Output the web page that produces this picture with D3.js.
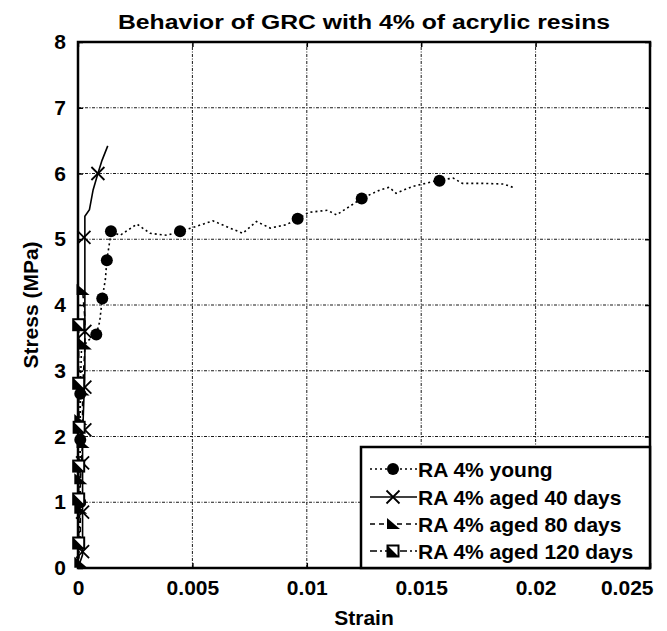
<!DOCTYPE html>
<html><head><meta charset="utf-8">
<script src="https://cdn.jsdelivr.net/npm/d3@7"></script>
<style>html,body{margin:0;padding:0;background:#fff;}svg{display:block;}</style>
</head><body><svg id="c" width="667" height="631"></svg>
<script>
const titleText = "Behavior of GRC with 4% of acrylic resins";
const xLabel = "Strain";
const yLabel = "Stress (MPa)";
const xTicks = [0, 0.005, 0.01, 0.015, 0.02, 0.025];
const xTickLabels = ["0", "0.005", "0.01", "0.015", "0.02", "0.025"];
const yTicks = [0, 1, 2, 3, 4, 5, 6, 7, 8];
const seriesNames = ["RA 4% young", "RA 4% aged 40 days", "RA 4% aged 80 days", "RA 4% aged 120 days"];

// [strain, stress]
const youngCurve = [[0,0],[0.00005,0.3],[0.00008,1.0],[0.0001,1.9],[0.0001,2.7],[0.00015,3.3],[0.0004,3.45],[0.0008,3.55],[0.00095,3.75],[0.00106,4.1],[0.0012,4.4],[0.00126,4.68],[0.0014,5.0],[0.00144,5.12],
  [0.00184,5.06],[0.00258,5.23],[0.00315,5.09],[0.00389,5.06],[0.00446,5.12],[0.00503,5.18],[0.0059,5.28],[0.0065,5.19],[0.0072,5.09],[0.0078,5.27],[0.0084,5.17],[0.0091,5.22],[0.0096,5.31],
  [0.0101,5.41],[0.0109,5.44],[0.0113,5.37],[0.0124,5.62],[0.0132,5.75],[0.0136,5.79],[0.0139,5.70],[0.0146,5.80],[0.0153,5.86],[0.0158,5.90],[0.0164,5.93],[0.0168,5.85],[0.0177,5.85],[0.0186,5.84],[0.0190,5.79]];
const youngMarkers = [[0.0001,1.0],[0.0001,1.95],[0.0001,2.65],[0.0008,3.55],[0.00106,4.1],[0.00126,4.68],[0.00144,5.12],[0.00446,5.12],[0.0096,5.31],[0.0124,5.62],[0.0158,5.89]];

const aged40Curve = [[0,0],[0.0002,0.2],[0.0002,1.0],[0.0002,2.0],[0.0003,3.0],[0.0003,4.0],[0.0003,5.0],[0.0003,5.35],[0.0005,5.45],[0.00066,5.75],[0.00087,6.0],[0.00105,6.2],[0.0013,6.42]];
const aged40Markers = [[0.0002,0.25],[0.0002,0.85],[0.0002,1.6],[0.0003,2.1],[0.0003,2.75],[0.0003,3.6],[0.00026,5.03],[0.00087,6.0]];

const aged80Curve = [[0,0],[0.0001,0.5],[0.0001,1.3],[0.0002,1.9],[0.0002,2.7],[0.0003,3.35],[0.0003,3.8],[0.0002,4.23]];
const aged80Markers = [[0.0001,0.08],[0.0001,0.9],[0.0001,1.35],[0.0002,1.9],[0.0001,2.25],[0.0002,2.7],[0.0003,3.4],[0.0002,4.23]];

const aged120Curve = [[0,0],[0.00003,0.38],[0.00003,1.05],[0.00003,1.55],[0.00005,2.14],[0.00003,2.81],[0.00003,3.7]];
const aged120Markers = [[0.00003,0.38],[0.00003,1.05],[0.00003,1.55],[0.00005,2.14],[0.00003,2.81],[0.00003,3.7]];

const W = 667, H = 631;
const m = {left: 78, right: 17, top: 42, bottom: 63};
const svg = d3.select("#c");
const x = d3.scaleLinear().domain([0, 0.025]).range([m.left, W - m.right]);
const y = d3.scaleLinear().domain([0, 8]).range([H - m.bottom, m.top]);
const font = "'Liberation Sans', Arial, Helvetica, sans-serif";

// grid
const grid = svg.append("g").attr("stroke", "#000").attr("stroke-width", 1).attr("stroke-dasharray", "3,1.5,1,1.5").attr("opacity", 0.9);
grid.selectAll("line.v").data(xTicks.slice(1, -1)).join("line")
  .attr("x1", d => x(d)).attr("x2", d => x(d)).attr("y1", y(0)).attr("y2", y(8));
grid.selectAll("line.h").data(yTicks.slice(1, -1)).join("line")
  .attr("x1", x(0)).attr("x2", x(0.025)).attr("y1", d => y(d)).attr("y2", d => y(d));

// axes
const fmt = (d) => xTickLabels[xTicks.indexOf(d)];
const xAxis = svg.append("g").attr("transform", `translate(0,${y(0)})`)
  .call(d3.axisBottom(x).tickValues(xTicks).tickFormat(fmt).tickSizeInner(-5).tickSizeOuter(0).tickPadding(12));
const xAxisTop = svg.append("g").attr("transform", `translate(0,${y(8)})`)
  .call(d3.axisTop(x).tickValues(xTicks).tickFormat("").tickSizeInner(-5).tickSizeOuter(0));
const yAxis = svg.append("g").attr("transform", `translate(${x(0)},0)`)
  .call(d3.axisLeft(y).tickValues(yTicks).tickFormat(d3.format("d")).tickSizeInner(-5).tickSizeOuter(0).tickPadding(12));
const yAxisR = svg.append("g").attr("transform", `translate(${x(0.025)},0)`)
  .call(d3.axisRight(y).tickValues(yTicks).tickFormat("").tickSizeInner(-5).tickSizeOuter(0));
[xAxis, xAxisTop, yAxis, yAxisR].forEach(g => {
  g.select(".domain").remove();
  g.selectAll(".tick line").attr("stroke", "#000").attr("stroke-width", 1.5);
  g.selectAll("text").attr("font-family", font).attr("font-size", 21).attr("font-weight", "bold").attr("fill", "#000");
});
// last x label sits inside the picture edge
xAxis.selectAll(".tick text").filter(d => d === 0.025).attr("text-anchor", "end").attr("dx", 3);

// frame
svg.append("rect").attr("x", x(0)).attr("y", y(8)).attr("width", x(0.025) - x(0)).attr("height", y(0) - y(8))
  .attr("fill", "none").attr("stroke", "#000").attr("stroke-width", 2.5);

// series
const line = d3.line().x(d => x(d[0])).y(d => y(d[1]));
const dashes = ["2,3", null, "5,4", "7,3,2,3"];
const curves = [youngCurve, aged40Curve, aged80Curve, aged120Curve];
curves.forEach((c, i) => {
  svg.append("path").datum(c).attr("d", line).attr("fill", "none").attr("stroke", "#000")
    .attr("stroke-width", 1.6).attr("stroke-dasharray", dashes[i]);
});

function marker(g, type, cx, cy) {
  if (type === 0) {
    g.append("circle").attr("cx", cx).attr("cy", cy).attr("r", 6).attr("fill", "#000");
  } else if (type === 1) {
    const s = 6.5;
    g.append("path").attr("d", `M${cx-s},${cy-s}L${cx+s},${cy+s}M${cx-s},${cy+s}L${cx+s},${cy-s}`)
      .attr("stroke", "#000").attr("stroke-width", 1.8).attr("fill", "none");
  } else if (type === 2) {
    g.append("path").attr("d", `M${cx-6},${cy-6}L${cx+7},${cy+5}L${cx-6},${cy+5}Z`).attr("fill", "#000");
  } else {
    const s = 5.5;
    g.append("rect").attr("x", cx - s).attr("y", cy - s).attr("width", 2 * s).attr("height", 2 * s)
      .attr("fill", "#fff").attr("stroke", "#000").attr("stroke-width", 2);
    g.append("path").attr("d", `M${cx-s},${cy-s}L${cx+s},${cy+s}L${cx-s},${cy+s}Z`).attr("fill", "#000");
  }
}
const markerSets = [youngMarkers, aged40Markers, aged80Markers, aged120Markers];
const mg = svg.append("g");
markerSets.forEach((ms, i) => ms.forEach(d => marker(mg, i, x(d[0]), y(d[1]))));

// legend
const lg = svg.append("g");
const lx0 = 361, ly0 = 447, lx1 = x(0.025), ly1 = y(0);
lg.append("rect").attr("x", lx0).attr("y", ly0).attr("width", lx1 - lx0).attr("height", ly1 - ly0)
  .attr("fill", "#fff").attr("stroke", "#000").attr("stroke-width", 2.5);
const rowY = [469, 497, 524, 551];
seriesNames.forEach((nm, i) => {
  const ry = rowY[i];
  lg.append("line").attr("x1", 370).attr("x2", 417).attr("y1", ry).attr("y2", ry)
    .attr("stroke", "#000").attr("stroke-width", 1.6).attr("stroke-dasharray", dashes[i]);
  marker(lg, i, 393, ry);
  lg.append("text").attr("x", 418).attr("y", ry).attr("dy", "0.36em").text(nm)
    .attr("font-family", font).attr("font-size", 21).attr("font-weight", "bold").attr("fill", "#000");
});

// title & labels
svg.append("text").attr("x", 364).attr("y", 29).attr("text-anchor", "middle").text(titleText)
  .attr("font-family", font).attr("font-size", 20).attr("font-weight", "bold")
  .attr("textLength", 492).attr("lengthAdjust", "spacingAndGlyphs");
svg.append("text").attr("x", 364).attr("y", 625).attr("text-anchor", "middle").text(xLabel)
  .attr("font-family", font).attr("font-size", 21).attr("font-weight", "bold");
svg.append("text").attr("transform", `translate(38,${(y(0)+y(8))/2}) rotate(-90)`).attr("text-anchor", "middle").text(yLabel)
  .attr("font-family", font).attr("font-size", 21).attr("font-weight", "bold");
</script>
</body></html>
